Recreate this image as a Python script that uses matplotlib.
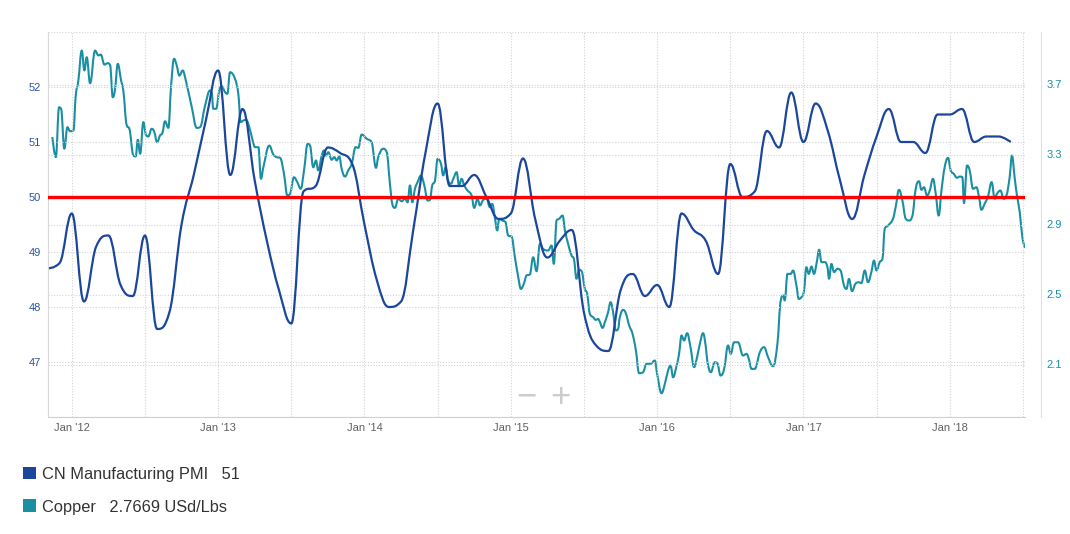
import numpy as np
import pandas as pd
import matplotlib
matplotlib.use("Agg")
import matplotlib.pyplot as plt
from matplotlib.path import Path
from matplotlib.patches import PathPatch, Rectangle

plt.rcParams['font.family'] = ['Liberation Sans', 'DejaVu Sans']

PMI_COLOR = '#1b469c'
COPPER_COLOR = '#1a8fa2'

# CN Manufacturing PMI, monthly Nov 2011 .. Jun 2018
months = pd.date_range('2011-11-01', '2018-06-01', freq='MS')
pmi = [48.7, 48.8,
       49.7, 48.1, 49.1, 49.3, 48.4, 48.2, 49.3, 47.6, 47.9, 49.5, 50.4, 51.4,
       52.3, 50.4, 51.6, 50.3, 49.2, 48.3, 47.7, 50.1, 50.2, 50.9, 50.8, 50.6,
       49.5, 48.5, 48.0, 48.1, 49.4, 50.8, 51.7, 50.2, 50.2, 50.4, 50.0, 49.6,
       49.7, 50.7, 49.6, 48.9, 49.2, 49.4, 47.9, 47.3, 47.2, 48.3, 48.6, 48.2,
       48.4, 48.0, 49.7, 49.4, 49.2, 48.6, 50.6, 50.0, 50.1, 51.2, 50.9, 51.9,
       51.0, 51.7, 51.2, 50.3, 49.6, 50.4, 51.1, 51.6, 51.0, 51.0, 50.8, 51.5,
       51.5, 51.6, 51.0, 51.1, 51.1, 51.0]

# Copper (USd/Lbs), dates as decimal years
copper_t = [
    2011.867, 2011.891, 2011.913, 2011.927, 2011.949, 2011.970, 2011.988,
    2012.011, 2012.027, 2012.045, 2012.068, 2012.086, 2012.102, 2012.125, 2012.159, 2012.182, 2012.198,
    2012.223, 2012.246, 2012.262, 2012.280, 2012.296, 2012.314, 2012.337, 2012.352, 2012.376, 2012.393,
    2012.421, 2012.437, 2012.451, 2012.467, 2012.489, 2012.508, 2012.523, 2012.546, 2012.564, 2012.583,
    2012.603, 2012.619, 2012.637, 2012.660, 2012.678, 2012.699, 2012.717, 2012.735, 2012.758, 2012.774,
    2012.820, 2012.854, 2012.876, 2012.911, 2012.945, 2012.956, 2012.967, 2012.986,
    2013.008, 2013.025, 2013.047, 2013.063, 2013.081, 2013.115, 2013.138, 2013.154, 2013.172, 2013.191,
    2013.213, 2013.236, 2013.252, 2013.275, 2013.293, 2013.309, 2013.350, 2013.377, 2013.400, 2013.423,
    2013.450, 2013.473, 2013.491, 2013.518, 2013.541, 2013.564, 2013.587, 2013.612, 2013.628, 2013.650,
    2013.669, 2013.684, 2013.708, 2013.723, 2013.736, 2013.753, 2013.776, 2013.794, 2013.810, 2013.828,
    2013.844, 2013.867, 2013.889, 2013.913, 2013.940, 2013.958, 2013.981,
    2014.015, 2014.049, 2014.079, 2014.094, 2014.128, 2014.152, 2014.174, 2014.190, 2014.208, 2014.231,
    2014.254, 2014.277, 2014.295, 2014.311, 2014.327, 2014.345, 2014.363, 2014.386, 2014.409, 2014.432,
    2014.447, 2014.463, 2014.482, 2014.500, 2014.523, 2014.538, 2014.555, 2014.572, 2014.591, 2014.607,
    2014.630, 2014.646, 2014.664, 2014.682, 2014.705, 2014.732, 2014.750, 2014.773, 2014.789, 2014.811,
    2014.835, 2014.857, 2014.873, 2014.891, 2014.907, 2014.921, 2014.941, 2014.964, 2014.982,
    2015.005, 2015.028, 2015.051, 2015.069, 2015.089, 2015.108, 2015.130, 2015.153, 2015.176, 2015.199,
    2015.221, 2015.255, 2015.279, 2015.294, 2015.313, 2015.331, 2015.354, 2015.370, 2015.392, 2015.415,
    2015.431, 2015.449, 2015.467, 2015.484, 2015.506, 2015.522, 2015.540, 2015.563, 2015.581, 2015.597,
    2015.609, 2015.627, 2015.643, 2015.665, 2015.682, 2015.699, 2015.718, 2015.734, 2015.745, 2015.768,
    2015.786, 2015.809, 2015.832, 2015.855, 2015.877, 2015.904, 2015.928, 2015.955, 2015.984,
    2016.000, 2016.030, 2016.053, 2016.075, 2016.092, 2016.109, 2016.133, 2016.150, 2016.167, 2016.184,
    2016.205, 2016.228, 2016.253, 2016.273, 2016.292, 2016.314, 2016.333, 2016.344, 2016.367, 2016.394,
    2016.413, 2016.433, 2016.458, 2016.485, 2016.503, 2016.526, 2016.553, 2016.587, 2016.611, 2016.626,
    2016.645, 2016.667, 2016.702, 2016.731, 2016.758, 2016.792, 2016.822, 2016.845, 2016.861, 2016.872,
    2016.891, 2016.913, 2016.929, 2016.952, 2016.968, 2016.986,
    2017.004, 2017.020, 2017.036, 2017.055, 2017.072, 2017.091, 2017.107, 2017.123, 2017.146, 2017.164,
    2017.175, 2017.191, 2017.209, 2017.232, 2017.253, 2017.277, 2017.294, 2017.311, 2017.332, 2017.355,
    2017.378, 2017.396, 2017.419, 2017.441, 2017.464, 2017.482, 2017.499, 2017.521, 2017.540, 2017.555,
    2017.578, 2017.612, 2017.630, 2017.653, 2017.676, 2017.699, 2017.721, 2017.745, 2017.767, 2017.790,
    2017.806, 2017.824, 2017.844, 2017.863, 2017.885, 2017.904, 2017.924, 2017.943, 2017.965, 2017.988,
    2018.006, 2018.027, 2018.049, 2018.068, 2018.086, 2018.097, 2018.118, 2018.136, 2018.159, 2018.182,
    2018.200, 2018.216, 2018.238, 2018.261, 2018.286, 2018.307, 2018.322, 2018.346, 2018.368, 2018.387,
    2018.409, 2018.425, 2018.443, 2018.459, 2018.478, 2018.496, 2018.514]
copper = [
    3.40, 3.285, 3.57, 3.56, 3.333, 3.456, 3.433,
    3.437, 3.637, 3.723, 3.894, 3.78, 3.856, 3.707, 3.894, 3.866, 3.871,
    3.814, 3.822, 3.809, 3.627, 3.675, 3.818, 3.723, 3.666, 3.466, 3.447,
    3.294, 3.289, 3.384, 3.304, 3.485, 3.409, 3.403, 3.447, 3.428, 3.370,
    3.409, 3.422, 3.490, 3.452, 3.685, 3.847, 3.809, 3.751, 3.78, 3.742,
    3.570, 3.452, 3.456, 3.580, 3.666, 3.656, 3.561, 3.561,
    3.666, 3.689, 3.656, 3.647, 3.77, 3.733, 3.647, 3.485, 3.494, 3.498,
    3.456, 3.38, 3.342, 3.342, 3.161, 3.227, 3.351, 3.30, 3.285, 3.281,
    3.19, 3.066, 3.075, 3.17, 3.142, 3.104, 3.209, 3.361, 3.351, 3.227,
    3.266, 3.209, 3.294, 3.323, 3.294, 3.313, 3.27, 3.285, 3.266, 3.289,
    3.218, 3.174, 3.209, 3.247, 3.342, 3.338, 3.414,
    3.39, 3.37, 3.224, 3.285, 3.333, 3.313, 3.133, 3.018, 2.995, 3.047,
    3.033, 3.047, 3.027, 3.123, 3.027, 3.104, 3.142, 3.18, 3.123, 3.037,
    3.04, 3.123, 3.151, 3.275, 3.247, 3.18, 3.227, 3.151, 3.133, 3.161,
    3.199, 3.123, 3.161, 3.123, 3.094, 3.066, 2.995, 3.047, 3.009, 3.04,
    3.047, 2.999, 3.018, 2.94, 2.866, 2.933, 2.923, 2.913, 2.837,
    2.831, 2.713, 2.599, 2.532, 2.561, 2.609, 2.614, 2.713, 2.633, 2.79,
    2.761, 2.751, 2.780, 2.675, 2.923, 2.933, 2.951, 2.866, 2.789, 2.723,
    2.704, 2.59, 2.641, 2.633, 2.532, 2.504, 2.39, 2.37, 2.355, 2.36,
    2.342, 2.309, 2.342, 2.399, 2.456, 2.399, 2.294, 2.304, 2.37, 2.412,
    2.393, 2.323, 2.275, 2.18, 2.05, 2.056, 2.104, 2.104, 2.123,
    2.047, 1.936, 1.99, 2.066, 2.094, 2.027, 2.094, 2.161, 2.266, 2.237,
    2.279, 2.199, 2.085, 2.142, 2.218, 2.279, 2.199, 2.113, 2.056, 2.113,
    2.104, 2.037, 2.075, 2.209, 2.161, 2.227, 2.227, 2.151, 2.161, 2.133,
    2.075, 2.075, 2.170, 2.199, 2.142, 2.09, 2.218, 2.466, 2.494, 2.466,
    2.618, 2.618, 2.637, 2.551, 2.475, 2.485,
    2.523, 2.656, 2.618, 2.66, 2.618, 2.685, 2.756, 2.685, 2.685, 2.656,
    2.59, 2.675, 2.628, 2.647, 2.637, 2.551, 2.532, 2.589, 2.519, 2.561,
    2.570, 2.565, 2.637, 2.570, 2.628, 2.694, 2.637, 2.685, 2.704, 2.875,
    2.894, 2.933, 2.999, 3.098, 3.037, 2.933, 2.923, 2.951, 3.104, 3.147,
    3.098, 3.113, 3.066, 3.094, 3.161, 3.075, 2.951, 3.094, 3.227, 3.281,
    3.209, 3.19, 3.167, 3.174, 3.17, 3.022, 3.237, 3.209, 3.104, 3.113,
    3.056, 2.984, 3.018, 3.06, 3.142, 3.047, 3.075, 3.094, 3.047, 3.066,
    3.17, 3.294, 3.17, 3.066, 2.97, 2.827, 2.767]

years = list(range(2012, 2019))
year_labels = ["Jan '%02d" % (y % 100) for y in years]
pmi_ticks = [46, 47, 48, 49, 50, 51, 52, 53]
copper_ticks = [2.1, 2.5, 2.9, 3.3, 3.7]


def spline_path(x, y, smoothing=1.5):
    # smooth curve through the points, built from cubic bezier segments
    n = len(x)
    left = [(x[i], y[i]) for i in range(n)]
    right = [(x[i], y[i]) for i in range(n)]
    d = smoothing + 1
    for i in range(1, n - 1):
        px, py = x[i], y[i]
        lx, ly = (smoothing * px + x[i - 1]) / d, (smoothing * py + y[i - 1]) / d
        rx, ry = (smoothing * px + x[i + 1]) / d, (smoothing * py + y[i + 1]) / d
        if rx != lx:
            corr = (ry - ly) * (rx - px) / (rx - lx) + py - ry
            ly += corr
            ry += corr
        if ly > y[i - 1] and ly > py:
            ly = max(y[i - 1], py)
            ry = 2 * py - ly
        elif ly < y[i - 1] and ly < py:
            ly = min(y[i - 1], py)
            ry = 2 * py - ly
        if ry > y[i + 1] and ry > py:
            ry = max(y[i + 1], py)
            ly = 2 * py - ry
        elif ry < y[i + 1] and ry < py:
            ry = min(y[i + 1], py)
            ly = 2 * py - ry
        left[i] = (lx, ly)
        right[i] = (rx, ry)
    verts = [(x[0], y[0])]
    codes = [Path.MOVETO]
    for i in range(1, n):
        verts += [right[i - 1], left[i], (x[i], y[i])]
        codes += [Path.CURVE4] * 3
    return Path(verts, codes)


W, H = 1070, 534
fig = plt.figure(figsize=(W / 100, H / 100), dpi=100)
ax = fig.add_axes([47.5 / W, 1 - 417 / H, (1025.3 - 47.5) / W, (417 - 32) / H])
ax2 = ax.twinx()
ax.set_zorder(ax2.get_zorder() + 1)
ax.patch.set_visible(False)

pmi_t = list(months.year + (months.month - 1) / 12.0)
ax2.add_patch(PathPatch(spline_path(copper_t, copper), facecolor='none',
                        edgecolor=COPPER_COLOR, lw=1.5, joinstyle='round'))
ax.add_patch(PathPatch(spline_path(pmi_t, pmi), facecolor='none',
                       edgecolor=PMI_COLOR, lw=1.6, joinstyle='round'))
ax.axhline(50, color='#ff0000', lw=2.4, zorder=5)

ax.set_xlim(2011.834, 2018.516)
ax.set_ylim(46, 53)
ax2.set_ylim(1.8, 4.0)

grid_kw = dict(color='#d4d4d4', lw=0.8, linestyle=(0, (1, 1.5)))
ax.set_xticks(years)
ax.set_xticklabels(year_labels)
ax.set_xticks([y + 0.5 for y in years], minor=True)
ax.grid(axis='x', which='both', **grid_kw)
ax.set_yticks(pmi_ticks)
ax.set_yticklabels([''] + [str(v) for v in pmi_ticks[1:-1]] + [''])
ax.grid(axis='y', **grid_kw)
ax2.set_yticks(copper_ticks)
ax2.set_yticklabels([str(v) for v in copper_ticks])
ax2.grid(axis='y', **grid_kw)
ax.set_axisbelow(True)

ax.tick_params(axis='x', which='both', length=0, pad=4, labelsize=8, labelcolor='#606060')
ax.tick_params(axis='y', length=0, pad=4.5, labelsize=8, labelcolor='#2a55a3')
ax2.tick_params(axis='y', length=0, pad=3.6, labelsize=8, labelcolor=COPPER_COLOR)

for s in ['top', 'right']:
    ax.spines[s].set_visible(False)
for s in ['top', 'left', 'bottom']:
    ax2.spines[s].set_visible(False)
ax.spines['left'].set_color('#d8d8d8')
ax.spines['bottom'].set_color('#d0d0d0')
ax2.spines['right'].set_color('#e0e0e0')
ax2.spines['right'].set_position(('outward', 11.5))

# zoom buttons
fig.text(526 / W, 1 - 407 / H, '\u2212', fontsize=25, color='#cccccc', ha='center', va='baseline')
fig.text(560.5 / W, 1 - 407 / H, '+', fontsize=25, color='#cccccc', ha='center', va='baseline')

# legend
legend_rows = [(PMI_COLOR, 'CN Manufacturing PMI   51', 479),
               (COPPER_COLOR, 'Copper   2.7669 USd/Lbs', 511.7)]
for color, label, base in legend_rows:
    fig.add_artist(Rectangle((23.3 / W, 1 - base / H), 12.4 / W, 12.3 / H,
                             transform=fig.transFigure, facecolor=color, edgecolor='none'))
    fig.text(42 / W, 1 - base / H, label, fontsize=11.8, color='#333333', va='baseline')

fig.savefig('out.png', dpi=100)
